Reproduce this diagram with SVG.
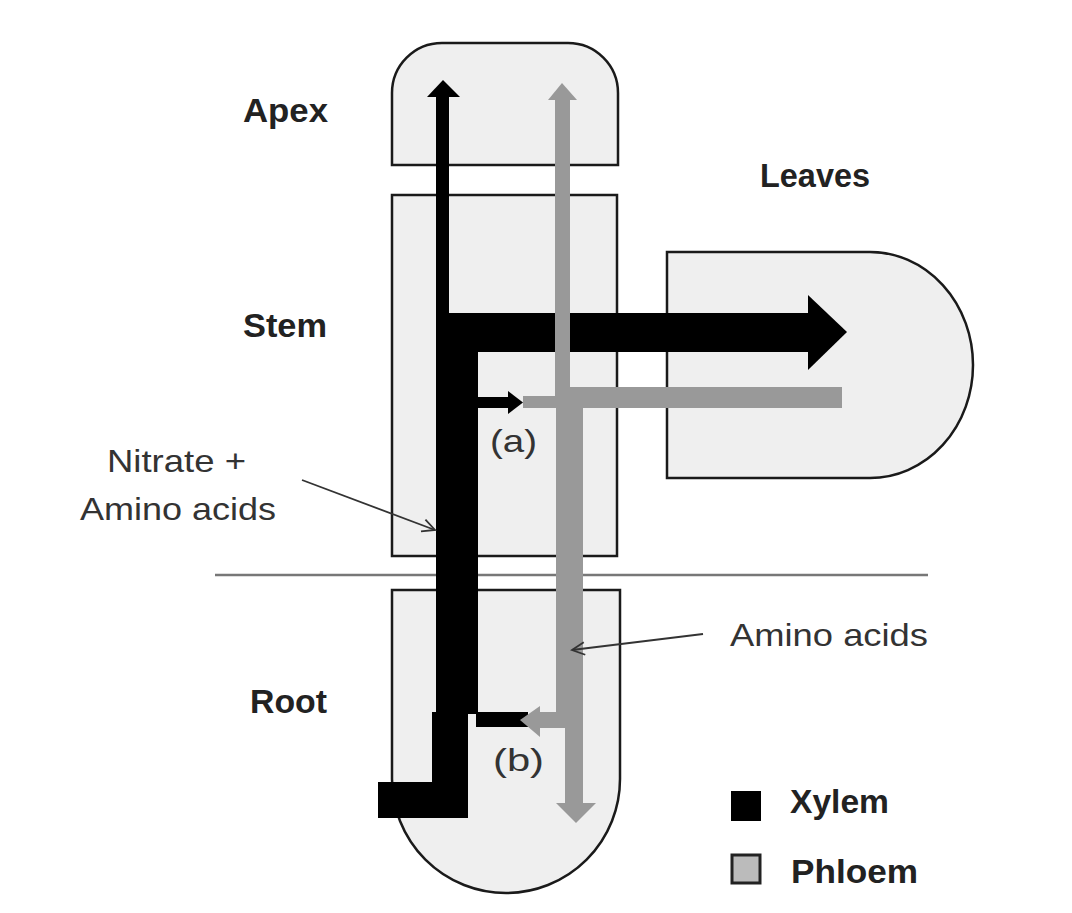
<svg xmlns="http://www.w3.org/2000/svg" width="1072" height="913" viewBox="0 0 1072 913">
<defs>
<style>
.organ{fill:#efefef;stroke:#1a1a1a;stroke-width:2.5}
.xy{fill:#000}
.ph{fill:#999}
.lbl{font-family:"Liberation Sans",Arial,sans-serif;font-size:33px;font-weight:bold;fill:#222}
.txt{font-family:"Liberation Sans",Arial,sans-serif;font-size:32px;fill:#333}
.ptr{stroke:#333;stroke-width:1.8;fill:none;marker-end:url(#open)}
</style>
<marker id="open" viewBox="0 0 20 20" refX="18" refY="10" markerWidth="18" markerHeight="18" markerUnits="userSpaceOnUse" orient="auto">
<polyline points="4,3 18,10 4,17" fill="none" stroke="#333" stroke-width="2"/>
</marker>
</defs>
<rect width="1072" height="913" fill="#fff"/>

<g id="divider">
<line x1="215" y1="575" x2="928" y2="575" stroke="#777" stroke-width="2.5"/>
</g>

<g id="apex">
<path class="organ" d="M392,165 V93 A50,50 0 0 1 442,43 H568 A50,50 0 0 1 618,93 V165 Z"/>
<text class="lbl" x="243" y="122" textLength="85" lengthAdjust="spacingAndGlyphs">Apex</text>
</g>
<g id="stem">
<rect class="organ" x="392" y="195" width="225" height="361"/>
<text class="lbl" x="243" y="337" textLength="84" lengthAdjust="spacingAndGlyphs">Stem</text>
</g>
<g id="leaves">
<path class="organ" d="M667,252 H870 A103,113 0 0 1 870,478 H667 Z"/>
<text class="lbl" x="760" y="187" textLength="110" lengthAdjust="spacingAndGlyphs">Leaves</text>
</g>
<g id="root">
<path class="organ" d="M392,590 H620 V779 A114,114 0 0 1 392,779 Z"/>
<text class="lbl" x="250" y="713" textLength="77" lengthAdjust="spacingAndGlyphs">Root</text>
</g>

<g id="connectors">
<g id="xylem">
<rect class="xy" x="436" y="96" width="13" height="220"/>
<polygon class="xy" points="443,80 460,97 427,97"/>
<rect class="xy" x="436" y="313" width="373" height="39"/>
<polygon class="xy" points="808,295 847,332 808,370"/>
<rect class="xy" x="436" y="350" width="42" height="364"/>
<rect class="xy" x="476" y="397" width="34" height="11"/>
<polygon class="xy" points="508,391 523,402.5 508,414"/>
<rect class="xy" x="476" y="712" width="52" height="15"/>
<rect class="xy" x="432" y="712" width="36" height="106"/>
<rect class="xy" x="378" y="782" width="90" height="36"/>
</g>
<g id="phloem">
<rect class="ph" x="523" y="396" width="34" height="12"/>
<rect class="ph" x="555" y="387" width="287" height="21"/>
<rect class="ph" x="555" y="99" width="15" height="290"/>
<polygon class="ph" points="562,83 577,100 548,100"/>
<rect class="ph" x="556" y="387" width="27" height="341"/>
<rect class="ph" x="565" y="726" width="18" height="79"/>
<polygon class="ph" points="556,803 596,803 576,823"/>
<rect class="ph" x="538" y="712" width="20" height="16"/>
<polygon class="ph" points="540,706 540,737 520,720"/>
</g>
<line class="ptr" x1="302" y1="480" x2="435" y2="530"/>
<line class="ptr" x1="703" y1="634" x2="572" y2="650"/>
</g>

<g id="labels">
<text class="txt" x="107" y="472" textLength="139" lengthAdjust="spacingAndGlyphs">Nitrate +</text>
<text class="txt" x="80" y="520" textLength="196" lengthAdjust="spacingAndGlyphs">Amino acids</text>
<text class="txt" x="730" y="646" textLength="198" lengthAdjust="spacingAndGlyphs">Amino acids</text>
<text class="txt" x="490" y="452" textLength="47" lengthAdjust="spacingAndGlyphs">(a)</text>
<text class="txt" x="493" y="771" textLength="51" lengthAdjust="spacingAndGlyphs">(b)</text>
</g>

<g id="legend">
<rect x="731" y="791" width="30" height="30" fill="#000"/>
<text class="lbl" x="790" y="813" textLength="99" lengthAdjust="spacingAndGlyphs">Xylem</text>
<rect x="732" y="855" width="28" height="28" fill="#bbb" stroke="#222" stroke-width="3"/>
<text class="lbl" x="791" y="883" textLength="127" lengthAdjust="spacingAndGlyphs">Phloem</text>
</g>
</svg>
